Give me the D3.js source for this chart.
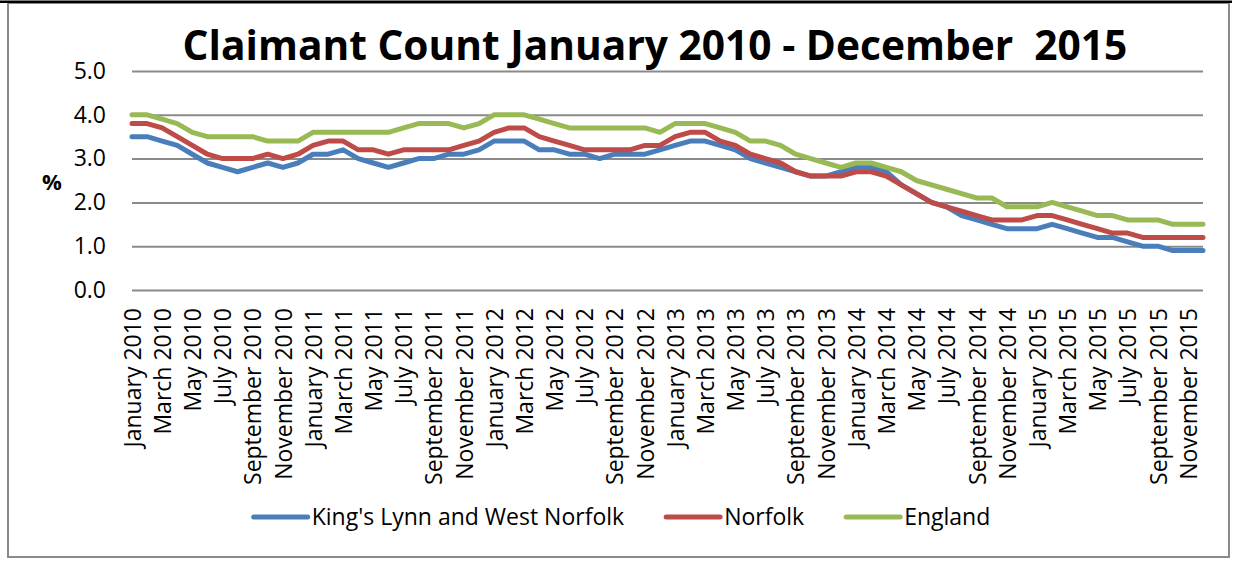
<!DOCTYPE html>
<html>
<head>
<meta charset="utf-8">
<script src="https://cdn.jsdelivr.net/npm/d3@7"></script>
<style>
  body { margin: 0; background: #fff; }
  text { font-family: "Open Sans", sans-serif; }
</style>
</head>
<body>
<svg id="chart" width="1236" height="562"></svg>
<script>
const monthNames = ["January","February","March","April","May","June","July","August","September","October","November","December"];
const years = [2010, 2011, 2012, 2013, 2014, 2015];
const categories = years.flatMap(yr => monthNames.map(m => m + " " + yr));

const kingsLynn = [
  3.5,3.5,3.4,3.3,3.1,2.9,2.8,2.7,2.8,2.9,2.8,2.9,
  3.1,3.1,3.2,3.0,2.9,2.8,2.9,3.0,3.0,3.1,3.1,3.2,
  3.4,3.4,3.4,3.2,3.2,3.1,3.1,3.0,3.1,3.1,3.1,3.2,
  3.3,3.4,3.4,3.3,3.2,3.0,2.9,2.8,2.7,2.6,2.6,2.7,
  2.8,2.8,2.7,2.4,2.2,2.0,1.9,1.7,1.6,1.5,1.4,1.4,
  1.4,1.5,1.4,1.3,1.2,1.2,1.1,1.0,1.0,0.9,0.9,0.9
];
const norfolk = [
  3.8,3.8,3.7,3.5,3.3,3.1,3.0,3.0,3.0,3.1,3.0,3.1,
  3.3,3.4,3.4,3.2,3.2,3.1,3.2,3.2,3.2,3.2,3.3,3.4,
  3.6,3.7,3.7,3.5,3.4,3.3,3.2,3.2,3.2,3.2,3.3,3.3,
  3.5,3.6,3.6,3.4,3.3,3.1,3.0,2.9,2.7,2.6,2.6,2.6,
  2.7,2.7,2.6,2.4,2.2,2.0,1.9,1.8,1.7,1.6,1.6,1.6,
  1.7,1.7,1.6,1.5,1.4,1.3,1.3,1.2,1.2,1.2,1.2,1.2
];
const england = [
  4.0,4.0,3.9,3.8,3.6,3.5,3.5,3.5,3.5,3.4,3.4,3.4,
  3.6,3.6,3.6,3.6,3.6,3.6,3.7,3.8,3.8,3.8,3.7,3.8,
  4.0,4.0,4.0,3.9,3.8,3.7,3.7,3.7,3.7,3.7,3.7,3.6,
  3.8,3.8,3.8,3.7,3.6,3.4,3.4,3.3,3.1,3.0,2.9,2.8,
  2.9,2.9,2.8,2.7,2.5,2.4,2.3,2.2,2.1,2.1,1.9,1.9,
  1.9,2.0,1.9,1.8,1.7,1.7,1.6,1.6,1.6,1.5,1.5,1.5
];
const seriesNames = ["King's Lynn and West Norfolk", "Norfolk", "England"];
const seriesValues = [kingsLynn, norfolk, england];
const seriesColors = ["#4A7EBB", "#BE4B48", "#98B954"];
const yTicks = [0, 1, 2, 3, 4, 5];
const titleText = "Claimant Count January 2010 - December  2015";
const yAxisLabel = "%";

const svg = d3.select("#chart");

// outer frame
svg.append("rect").attr("x", 8).attr("y", 3).attr("width", 1221).attr("height", 554)
  .attr("fill", "#fff").attr("stroke", "#8a8a8a").attr("stroke-width", 2);
svg.append("rect").attr("x", 0).attr("y", 0.5).attr("width", 1232).attr("height", 2.5).attr("fill", "#000");

const x = d3.scalePoint().domain(categories).range([132, 1203]);
const y = d3.scaleLinear().domain([0, 5]).range([290, 71]);

// y axis with gridlines
const yAxis = svg.append("g").attr("transform", "translate(132,0)")
  .call(d3.axisLeft(y).tickValues(yTicks).tickFormat(d3.format(".1f"))
    .tickSize(-(1203 - 132)).tickPadding(26));
yAxis.select(".domain").remove();
yAxis.selectAll(".tick line").attr("stroke", "#8a8a8a").attr("stroke-width", 2);
yAxis.selectAll(".tick text").attr("font-size", 23).attr("fill", "#000")
  .style("font-family", "'Open Sans', sans-serif");

// x axis labels
const xAxis = svg.append("g").attr("transform", "translate(0,290)")
  .call(d3.axisBottom(x).tickValues(categories.filter((c, i) => i % 2 === 0)).tickSize(0));
xAxis.select(".domain").remove();
xAxis.selectAll(".tick text")
  .attr("transform", "rotate(-90)")
  .attr("x", -18).attr("y", 0).attr("dy", "0.36em")
  .style("text-anchor", "end")
  .attr("font-size", 23).attr("fill", "#000")
  .style("font-family", "'Open Sans', sans-serif");

// lines
const line = d3.line().x((d, i) => x(categories[i])).y(d => y(d));
seriesValues.forEach((vals, k) => {
  svg.append("path").datum(vals)
    .attr("d", line)
    .attr("fill", "none")
    .attr("stroke", seriesColors[k])
    .attr("stroke-width", 5)
    .attr("stroke-linejoin", "round")
    .attr("stroke-linecap", "round");
});

// title
svg.append("text").attr("x", 655).attr("y", 60)
  .attr("text-anchor", "middle")
  .attr("font-size", 40.7).attr("font-weight", "bold")
  .style("white-space", "pre")
  .text(titleText);

// y label
svg.append("text").attr("x", 52).attr("y", 190)
  .attr("text-anchor", "middle")
  .attr("font-size", 22).attr("font-weight", "bold")
  .text(yAxisLabel);

// legend
const legend = svg.append("g");
let lx = 0;
seriesNames.forEach((name, k) => {
  const g = legend.append("g").attr("transform", `translate(${lx},0)`);
  g.append("line").attr("x1", 2).attr("x2", 56).attr("y1", 0).attr("y2", 0)
    .attr("stroke", seriesColors[k]).attr("stroke-width", 5).attr("stroke-linecap", "round");
  const t = g.append("text").attr("x", 60).attr("y", 8)
    .attr("font-size", 23).attr("fill", "#000").text(name);
  const w = t.node().getComputedTextLength();
  lx += 60 + w + 40;
});
const totalW = lx - 40;
legend.attr("transform", `translate(${621 - totalW / 2},517)`);
</script>
</body>
</html>
